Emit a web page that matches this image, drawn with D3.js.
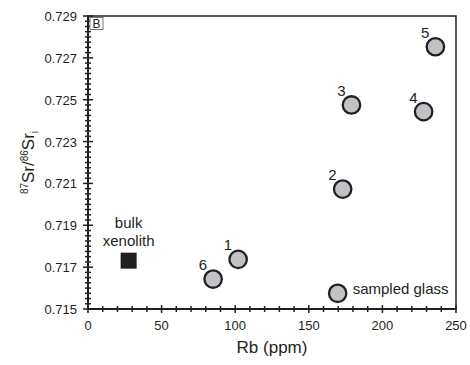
<!DOCTYPE html>
<html>
<head>
<meta charset="utf-8">
<script src="https://cdn.jsdelivr.net/npm/d3@7"></script>
<style>
  body { margin: 0; background: #fff; }
  text { font-family: "Liberation Sans", Arial, sans-serif; fill: #231f20; }
</style>
</head>
<body>
<div id="chart"></div>
<script>
// samples (numbered circles)
const sampleLabels = ['1', '2', '3', '4', '5', '6'];
const sampleRb = [102, 173, 179, 228, 236, 85];
const sampleSr = [0.71737, 0.72073, 0.72475, 0.72443, 0.72753, 0.71643];

// sampled glass
const glassRb = [169.6];
const glassSr = [0.71575];

// bulk xenolith
const bulkRb = [27.6];
const bulkSr = [0.71731];

const xTicks = [0, 50, 100, 150, 200, 250];
const yTicks = [0.715, 0.717, 0.719, 0.721, 0.723, 0.725, 0.727, 0.729];

const width = 470, height = 365;
const margin = { top: 16, right: 14, bottom: 56, left: 88 };

const svg = d3.select('#chart').append('svg')
  .attr('width', width)
  .attr('height', height);

const x = d3.scaleLinear().domain([0, 250]).range([margin.left, width - margin.right]);
const y = d3.scaleLinear().domain([0.715, 0.729]).range([height - margin.bottom, margin.top]);

const ink = '#231f20';

// frame (top, right)
svg.append('rect')
  .attr('x', x(0)).attr('y', y(0.729))
  .attr('width', x(250) - x(0)).attr('height', y(0.715) - y(0.729))
  .attr('fill', 'none').attr('stroke', ink).attr('stroke-width', 1.5);

// x axis ticks: minor every 10
const xMinor = d3.range(0, 251, 10);
svg.append('g').selectAll('line').data(xMinor).enter().append('line')
  .attr('x1', d => x(d)).attr('x2', d => x(d))
  .attr('y1', d => y(0.715) - (d % 50 === 0 ? 4 : 3))
  .attr('y2', d => y(0.715) + (d % 50 === 0 ? 4 : 3))
  .attr('stroke', ink).attr('stroke-width', 1.5);

svg.append('line')
  .attr('x1', x(0)).attr('x2', x(250))
  .attr('y1', y(0.715)).attr('y2', y(0.715))
  .attr('stroke', ink).attr('stroke-width', 2);

svg.append('g').selectAll('text').data(xTicks).enter().append('text')
  .attr('x', d => x(d)).attr('y', y(0.715) + 21)
  .attr('text-anchor', 'middle')
  .attr('font-size', 13)
  .text(d => d);

// y axis ticks: minor every 0.00025
const yMinor = d3.range(0, 57).map(i => 0.715 + i * 0.00025);
svg.append('g').selectAll('line').data(yMinor).enter().append('line')
  .attr('y1', d => y(d)).attr('y2', d => y(d))
  .attr('x1', (d, i) => x(0) - (i % 8 === 0 ? 5 : 3))
  .attr('x2', (d, i) => x(0) + (i % 8 === 0 ? 5 : 3))
  .attr('stroke', ink).attr('stroke-width', 1.5);

svg.append('line')
  .attr('x1', x(0)).attr('x2', x(0))
  .attr('y1', y(0.715)).attr('y2', y(0.729))
  .attr('stroke', ink).attr('stroke-width', 2);

svg.append('g').selectAll('text').data(yTicks).enter().append('text')
  .attr('x', x(0) - 11).attr('y', d => y(d) + 5)
  .attr('text-anchor', 'end')
  .attr('font-size', 13)
  .text(d => d3.format('.3f')(d));

// axis titles
svg.append('text')
  .attr('x', (x(0) + x(250)) / 2).attr('y', height - 12)
  .attr('text-anchor', 'middle')
  .attr('font-size', 17)
  .text('Rb (ppm)');

const yt = svg.append('text')
  .attr('transform', `translate(${34},${(y(0.715) + y(0.729)) / 2}) rotate(-90)`)
  .attr('text-anchor', 'middle')
  .attr('font-size', 17);
yt.append('tspan').attr('font-size', 10).attr('dy', -6).text('87');
yt.append('tspan').attr('dy', 6).text('Sr/');
yt.append('tspan').attr('font-size', 10).attr('dy', -6).text('86');
yt.append('tspan').attr('dy', 6).text('Sr');
yt.append('tspan').attr('font-size', 10).attr('dy', 4).text('i');

// panel letter
svg.append('rect')
  .attr('x', x(0) + 2).attr('y', y(0.729) + 1.5)
  .attr('width', 13).attr('height', 12)
  .attr('fill', '#fff').attr('stroke', '#555').attr('stroke-width', 0.8);
svg.append('text')
  .attr('x', x(0) + 8.5).attr('y', y(0.729) + 12)
  .attr('text-anchor', 'middle')
  .attr('font-size', 12)
  .text('B');

// sample circles
const samples = sampleLabels.map((l, i) => ({ label: l, rb: sampleRb[i], sr: sampleSr[i] }));
const circleStyle = sel => sel
  .attr('r', 8.7)
  .attr('fill', '#c1c2c6')
  .attr('stroke', ink)
  .attr('stroke-width', 2.3);

svg.append('g').selectAll('circle').data(samples).enter().append('circle')
  .attr('cx', d => x(d.rb)).attr('cy', d => y(d.sr))
  .call(circleStyle);

svg.append('g').selectAll('text').data(samples).enter().append('text')
  .attr('x', d => x(d.rb) - 6).attr('y', d => y(d.sr) - 9)
  .attr('text-anchor', 'end')
  .attr('font-size', 15)
  .text(d => d.label);

// sampled glass
svg.append('g').selectAll('circle').data(glassRb).enter().append('circle')
  .attr('cx', d => x(d)).attr('cy', (d, i) => y(glassSr[i]))
  .call(circleStyle);
svg.append('text')
  .attr('x', x(glassRb[0]) + 15).attr('y', y(glassSr[0]) + 1)
  .attr('font-size', 15)
  .text('sampled glass');

// bulk xenolith
svg.append('g').selectAll('rect').data(bulkRb).enter().append('rect')
  .attr('x', d => x(d) - 8).attr('y', (d, i) => y(bulkSr[i]) - 8)
  .attr('width', 16).attr('height', 16)
  .attr('fill', ink);
const bx = x(bulkRb[0]);
svg.append('text')
  .attr('x', bx).attr('y', y(bulkSr[0]) - 33)
  .attr('text-anchor', 'middle')
  .attr('font-size', 15)
  .text('bulk');
svg.append('text')
  .attr('x', bx).attr('y', y(bulkSr[0]) - 15)
  .attr('text-anchor', 'middle')
  .attr('font-size', 15)
  .text('xenolith');
</script>
</body>
</html>
